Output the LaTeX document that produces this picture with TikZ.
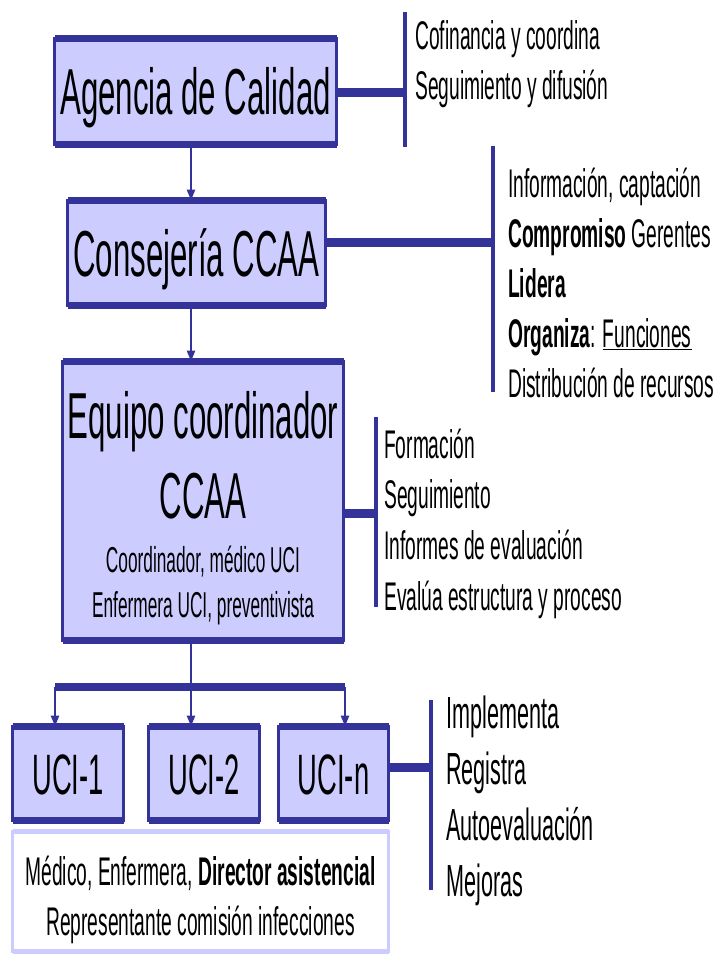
\documentclass[tikz,border=0pt]{standalone}
\usepackage{fontspec}
\setmainfont{Liberation Sans}[FakeStretch=0.48]
\usetikzlibrary{arrows.meta}
\definecolor{azul}{HTML}{333399}
\definecolor{lila}{HTML}{CCCCFF}
\begin{document}
\begin{tikzpicture}[x=1pt, y=-1pt,
  caja/.style={draw=azul, fill=lila, line width=3pt, inner sep=0pt, outer sep=0pt},
  borde/.style={draw=azul, line width=6.5pt},
  titulo/.style={font=\fontsize{65}{78}\selectfont, text height=47pt, text depth=0pt},
  texto/.style={anchor=base, inner sep=0pt},
  lista/.style={anchor=base west, inner sep=0pt, font=\fontsize{40}{48}\selectfont},
  barra/.style={draw=azul, line width=4pt},
  enlace/.style={draw=azul, line width=9pt},
  flecha/.style={draw=azul, line width=2.5pt, -{Triangle[length=11pt,width=8pt]}}]
  \useasboundingbox (0,0) rectangle (717,955);

  % cajas
  \node[caja, titulo, minimum width=282, minimum height=106] (agencia) at (195.5,91.5) {Agencia de Calidad};
  \node[caja, titulo, minimum width=258, minimum height=105] (consejeria) at (196.5,253) {Consejería CCAA};
  \node[caja, minimum width=281, minimum height=279] (equipo) at (203,501) {};
  \node[texto, font=\fontsize{65}{78}\selectfont] (equipoA) at (203,438) {Equipo coordinador};
  \node[texto, font=\fontsize{65}{78}\selectfont] (equipoB) at (203,518) {CCAA};
  \node[texto, font=\fontsize{36}{44}\selectfont] (equipoC) at (203,572) {Coordinador, médico UCI};
  \node[texto, font=\fontsize{36}{44}\selectfont] (equipoD) at (203,617) {Enfermera UCI, preventivista};
  \node[caja, font=\fontsize{57}{68}\selectfont, text height=41pt, text depth=0pt, minimum width=111, minimum height=94] (uci1) at (68,773.5) {UCI-1};
  \node[caja, font=\fontsize{57}{68}\selectfont, text height=41pt, text depth=0pt, minimum width=111, minimum height=94] (uci2) at (204,773.5) {UCI-2};
  \node[caja, font=\fontsize{57}{68}\selectfont, text height=41pt, text depth=0pt, minimum width=110, minimum height=94] (ucin) at (333.5,773.5) {UCI-n};
  \node[draw=lila, fill=white, line width=2.5pt, inner sep=0pt, outer sep=0pt, minimum width=376, minimum height=120] (personal) at (200.5,891.5) {};
  \node[texto, font=\fontsize{40}{48}\selectfont] (personalA) at (200.5,885) {Médico, Enfermera, \textbf{Director asistencial}};
  \node[texto, font=\fontsize{40}{48}\selectfont] (personalB) at (200.5,935) {Representante comisión infecciones};

  % bordes gruesos arriba y abajo
  \draw[borde] (agencia.north west) -- (agencia.north east) (agencia.south west) -- (agencia.south east);
  \draw[borde] (consejeria.north west) -- (consejeria.north east) (consejeria.south west) -- (consejeria.south east);
  \draw[borde] (equipo.north west) -- (equipo.north east) (equipo.south west) -- (equipo.south east);
  \draw[borde] (uci1.north west) -- (uci1.north east) (uci1.south west) -- (uci1.south east);
  \draw[borde] (uci2.north west) -- (uci2.north east) (uci2.south west) -- (uci2.south east);
  \draw[borde] (ucin.north west) -- (ucin.north east) (ucin.south west) -- (ucin.south east);
  \draw[draw=lila, line width=5pt] (personal.north west) -- (personal.north east) (personal.south west) -- (personal.south east);

  % flechas verticales
  \coordinate (eje) at (191,0);
  \draw[flecha] (eje |- agencia.south) -- (eje |- consejeria.north);
  \draw[flecha] (eje |- consejeria.south) -- (eje |- equipo.north);
  \coordinate (busL) at (55,687);
  \coordinate (busM) at (191,687);
  \coordinate (busR) at (345,687);
  \draw[draw=azul, line width=2.5pt] (eje |- equipo.south) -- (busM);
  \draw[draw=azul, line width=8pt] (busL) -- (busR);
  \draw[flecha] (busL) -- (busL |- uci1.north);
  \draw[flecha] (busM) -- (busM |- uci2.north);
  \draw[flecha] (busR) -- (busR |- ucin.north);

  % barras y listas
  \coordinate (hub1) at (405,93);
  \draw[barra] (405,12) -- (405,147);
  \draw[enlace] (agencia.east |- hub1) -- (hub1);
  \node[lista] (cofinancia) at (415,50) {Cofinancia y coordina};
  \node[lista] (seguim1) at (415,100) {Seguimiento y difusión};

  \coordinate (hub2) at (493,242);
  \draw[barra] (493,146) -- (493,392);
  \draw[enlace] (consejeria.east |- hub2) -- (hub2);
  \node[lista] (info) at (508,197) {Información, captación};
  \node[lista] (compromiso) at (508,247) {\textbf{Compromiso} Gerentes};
  \node[lista] (lidera) at (508,297) {\textbf{Lidera}};
  \node[lista] (organiza) at (508,347) {\textbf{Organiza}: \underline{Funciones}};
  \node[lista] (distrib) at (508,397) {Distribución de recursos};

  \coordinate (hub3) at (376,513);
  \draw[barra] (376,417) -- (376,607);
  \draw[enlace] (equipo.east |- hub3) -- (hub3);
  \node[lista] (formacion) at (384,458) {Formación};
  \node[lista] (seguim2) at (384,508) {Seguimiento};
  \node[lista] (informes) at (384,559) {Informes de evaluación};
  \node[lista] (evalua) at (384,610) {Evalúa estructura y proceso};

  \coordinate (hub4) at (431,767);
  \draw[barra] (431,700) -- (431,890);
  \draw[enlace] (ucin.east |- hub4) -- (hub4);
  \node[lista, font=\fontsize{45}{54}\selectfont] (implementa) at (446,728) {Implementa};
  \node[lista, font=\fontsize{45}{54}\selectfont] (registra) at (446,784) {Registra};
  \node[lista, font=\fontsize{45}{54}\selectfont] (autoeval) at (446,840) {Autoevaluación};
  \node[lista, font=\fontsize{45}{54}\selectfont] (mejoras) at (446,896) {Mejoras};
\end{tikzpicture}
\end{document}
